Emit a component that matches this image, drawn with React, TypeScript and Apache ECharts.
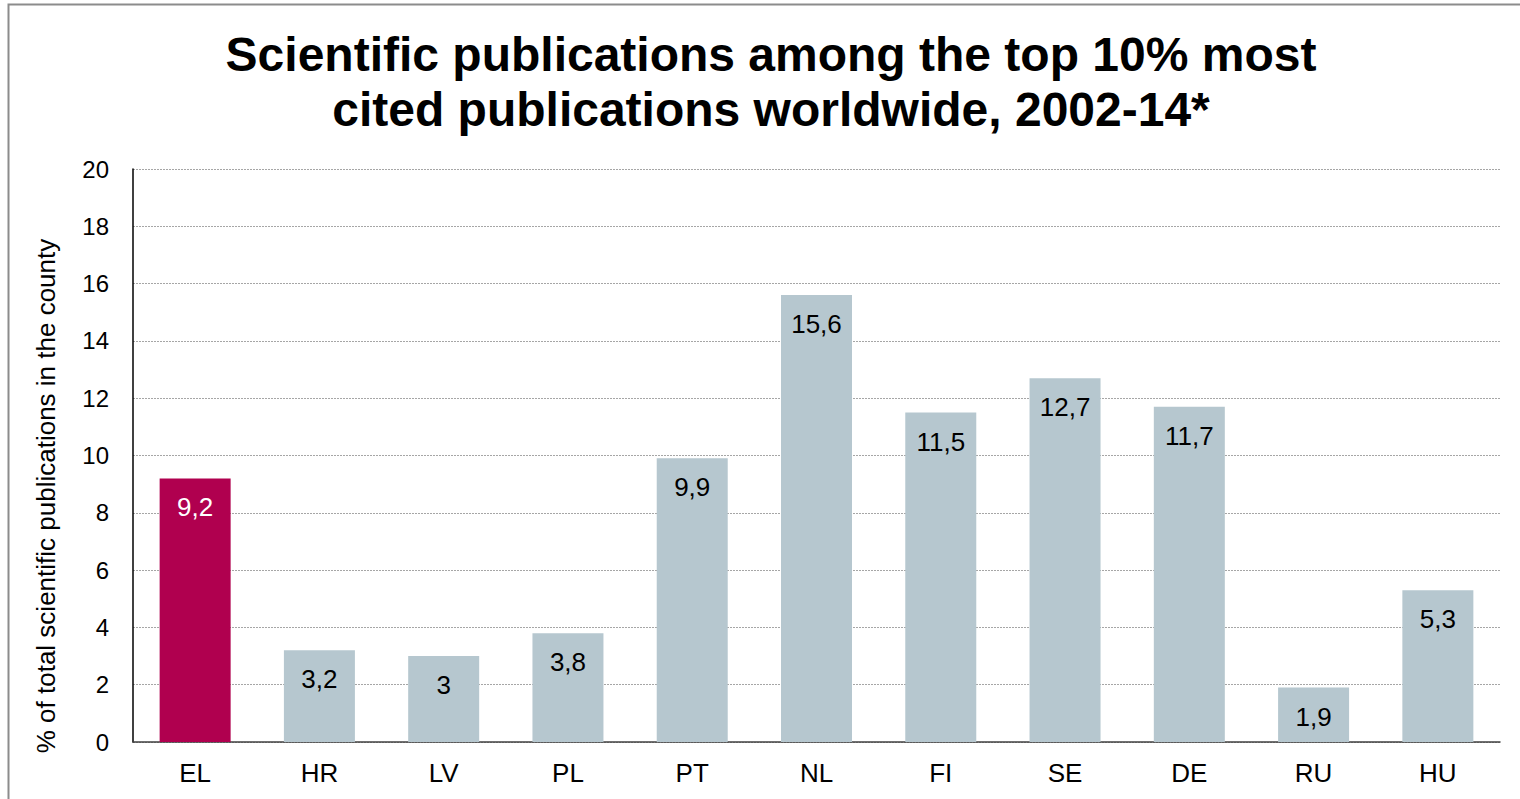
import React, { useEffect, useRef } from "react";
import * as echarts from "echarts";

const categories = ["EL", "HR", "LV", "PL", "PT", "NL", "FI", "SE", "DE", "RU", "HU"];
const values = [9.2, 3.2, 3, 3.8, 9.9, 15.6, 11.5, 12.7, 11.7, 1.9, 5.3];
const highlight = "EL";
const titleLines = [
  "Scientific publications among the top 10% most",
  "cited publications worldwide, 2002-14*",
];
const yAxisTitle = "% of total scientific publications in the county";

export default function App() {
  const ref = useRef<HTMLDivElement>(null);
  useEffect(() => {
    if (!ref.current) return;
    const chart = echarts.init(ref.current, null, { renderer: "svg" });
    const font = "'Liberation Sans', Arial, sans-serif";
    chart.setOption({
      animation: false,
      backgroundColor: "#ffffff",
      textStyle: { fontFamily: font },
      title: {
        text: titleLines.join("\n"),
        left: 766,
        top: 22,
        textAlign: "center",
        textStyle: {
          fontFamily: font,
          fontSize: 48,
          fontWeight: "bold",
          color: "#000",
          lineHeight: 55,
        },
      },
      grid: { left: 133, right: 20, top: 169, bottom: 57, containLabel: false },
      xAxis: {
        type: "category",
        data: categories,
        axisLine: { show: true, lineStyle: { color: "#404040", width: 1.5 } },
        axisTick: { show: false },
        axisLabel: { fontSize: 26, color: "#000", margin: 18, fontFamily: font },
      },
      yAxis: {
        type: "value",
        min: 0,
        max: 20,
        interval: 2,
        axisLine: { show: true, lineStyle: { color: "#000", width: 1.5 } },
        axisTick: { show: false },
        axisLabel: { fontSize: 24, color: "#000", margin: 24, fontFamily: font },
        splitLine: { show: true, lineStyle: { color: "#a6a6a6", type: [2, 1], width: 1 } },
      },
      graphic: [
        {
          type: "rect",
          shape: { x: 8.5, y: 4.5, width: 1600, height: 900 },
          style: { fill: "none", stroke: "#8c8c8c", lineWidth: 2 },
          silent: true,
        },
        {
          type: "text",
          x: 46,
          y: 496,
          rotation: Math.PI / 2,
          style: {
            text: yAxisTitle,
            fontSize: 26,
            fontFamily: font,
            fill: "#000",
            align: "center",
            verticalAlign: "middle",
          },
        },
      ],
      series: [
        {
          type: "bar",
          barWidth: 71,
          data: values.map((v, i) => ({
            value: v,
            itemStyle: { color: categories[i] === highlight ? "#B0004F" : "#B6C7CF" },
            label: { color: categories[i] === highlight ? "#ffffff" : "#000000" },
          })),
          label: {
            show: true,
            position: "insideTop",
            distance: 16,
            fontSize: 26,
            fontFamily: font,
            formatter: (p: any) => String(p.value).replace(".", ","),
          },
        },
      ],
    });
    return () => chart.dispose();
  }, []);
  return (
    <div
      ref={ref}
      style={{ position: "absolute", left: 0, top: 0, width: 1520, height: 799 }}
    />
  );
}
